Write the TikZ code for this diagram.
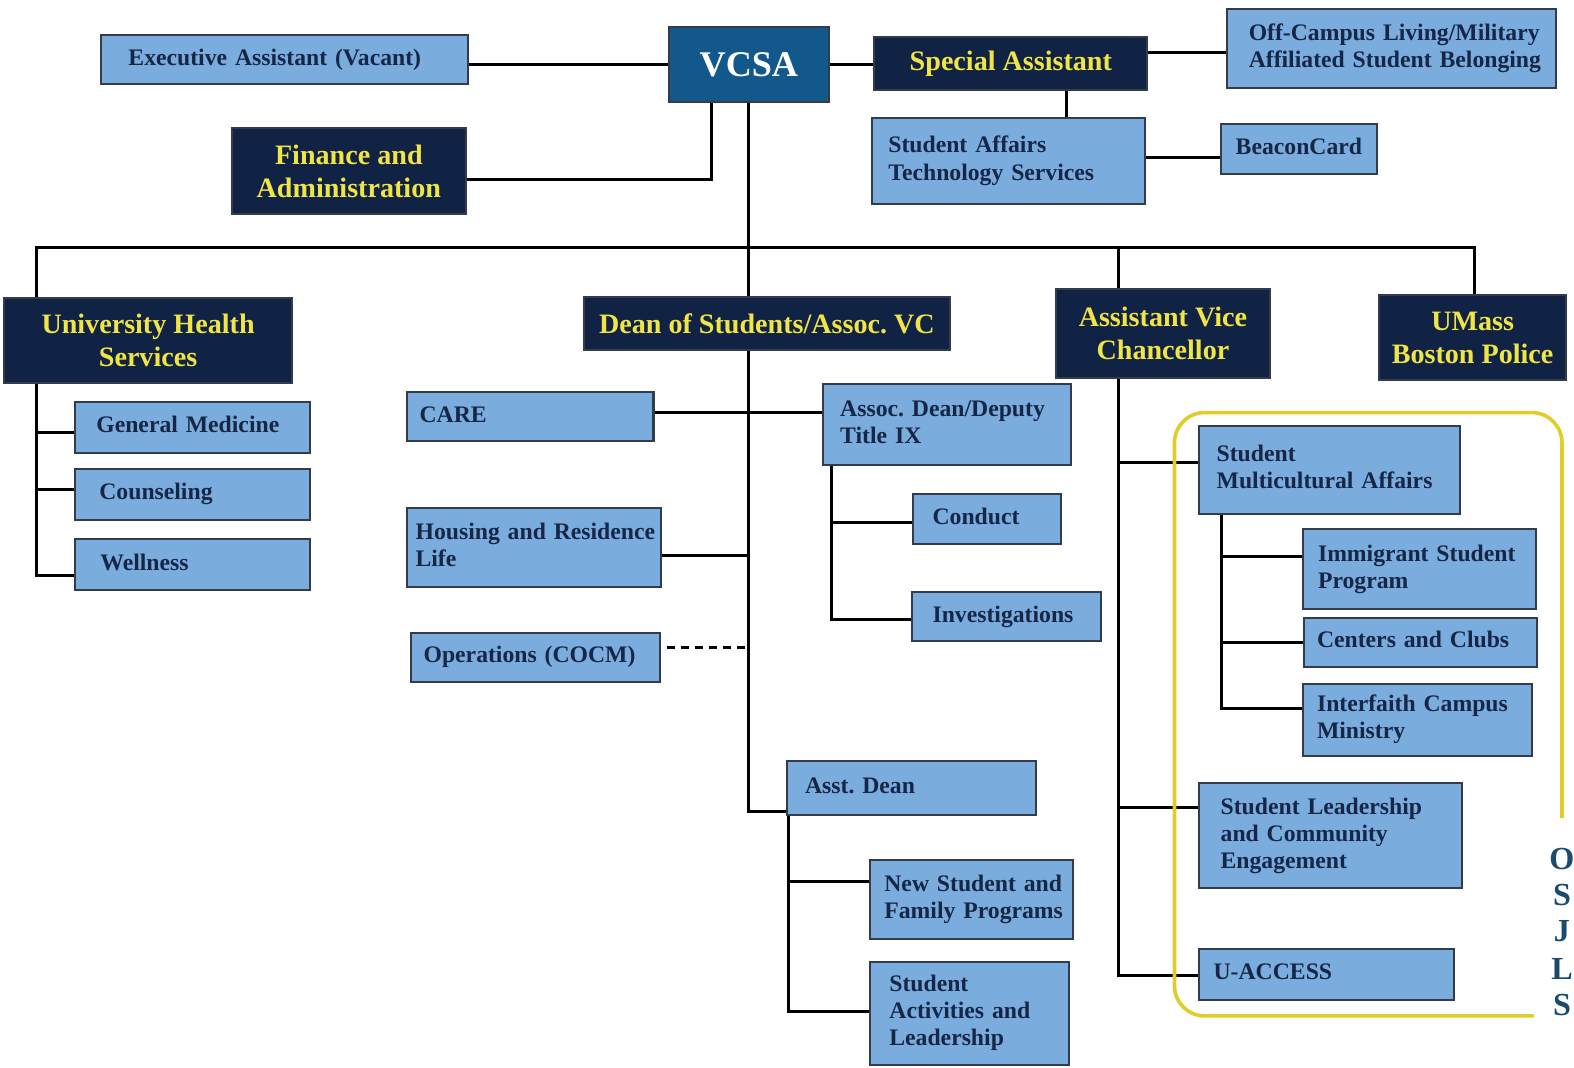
\documentclass[tikz,border=0pt]{standalone}
\usepackage{fontspec}
\setmainfont{Liberation Serif}
\frenchspacing
\definecolor{lightc}{RGB}{122,172,222}
\definecolor{bordc}{RGB}{50,60,75}
\definecolor{navyc}{RGB}{16,35,68}
\definecolor{vcsac}{RGB}{18,88,138}
\definecolor{yelc}{RGB}{240,228,70}
\definecolor{ltextc}{RGB}{22,38,70}
\definecolor{brackc}{RGB}{225,205,40}
\definecolor{osjc}{RGB}{25,75,110}
\newcommand{\boxlines}[1]{\begin{tabular}{@{}l@{}}#1\end{tabular}}
\tikzset{
  lb/.style={draw=bordc, line width=1pt, fill=lightc, text=ltextc,
    font=\bfseries\fontsize{11.8}{13.5}\selectfont,
    anchor=north west, inner ysep=0pt},
  db/.style={draw=bordc, line width=1pt, fill=navyc, text=yelc,
    font=\bfseries\fontsize{14}{16.5}\selectfont, align=center,
    anchor=north west, inner sep=0pt},
  conn/.style={line width=1.5pt, draw=black},
  osj/.style={text=osjc, font=\bfseries\fontsize{16}{18}\selectfont, inner sep=0pt}
}
\begin{document}
\begin{tikzpicture}[x=0.5pt,y=-0.5pt]
\useasboundingbox (0,0) rectangle (1568,1063);
\fill[white] (0,0) rectangle (1568,1063);

% top row
\node[lb, minimum width=182.5pt, minimum height=24.5pt, inner xsep=13.5pt, text width=155.5pt] (exec) at (100,34) {\boxlines{Executive Assistant (Vacant)}};
\node[draw=bordc, line width=1pt, fill=vcsac, text=white, font=\bfseries\fontsize{18}{20}\selectfont, anchor=north west, minimum width=80pt, minimum height=37.5pt, inner sep=0pt] (vcsa) at (665,26) {VCSA};
\node[db, minimum width=136pt, minimum height=26.5pt] (spec) at (870,36) {Special Assistant};
\node[lb, minimum width=164pt, minimum height=39.5pt, inner xsep=11pt, text width=142pt] (offc) at (1221,8) {\boxlines{Off-Campus Living/Military\\Affiliated Student Belonging}};
\node[db, minimum width=116.5pt, minimum height=42.5pt] (fin) at (230,127) {Finance and\\Administration};
\node[lb, minimum width=136pt, minimum height=42.5pt, inner xsep=8pt, text width=120pt] (sats) at (868,117) {\boxlines{Student Affairs\\Technology Services}};
\node[lb, minimum width=78pt, minimum height=24.5pt, inner xsep=7.5pt, text width=63pt] (beacon) at (1215,123) {\boxlines{BeaconCard}};

% second level
\node[db, minimum width=143.5pt, minimum height=42.5pt] (uhs) at (3,296) {University Health\\Services};
\node[db, minimum width=182pt, minimum height=26.5pt] (dean) at (581,295) {Dean of Students/Assoc. VC};
\node[db, minimum width=106.5pt, minimum height=44.5pt] (avc) at (1051,287) {Assistant Vice\\Chancellor};
\node[db, minimum width=93pt, minimum height=42.5pt] (police) at (1373,293) {UMass\\Boston Police};

% health services
\node[lb, minimum width=117pt, minimum height=25.5pt, inner xsep=10.5pt, text width=96pt] (gm) at (74,399) {\boxlines{General Medicine}};
\node[lb, minimum width=117pt, minimum height=25.5pt, inner xsep=12pt, text width=93pt] (couns) at (74,466) {\boxlines{Counseling}};
\node[lb, minimum width=117pt, minimum height=25.5pt, inner xsep=12.5pt, text width=92pt] (well) at (74,536) {\boxlines{Wellness}};

% dean of students
\node[lb, minimum width=123pt, minimum height=24pt, inner xsep=6.5pt, text width=110pt] (care) at (404,390) {\boxlines{CARE}};
\node[lb, minimum width=123.5pt, minimum height=40pt, inner xsep=8.5pt, text width=106.5pt] (assoc) at (819,382) {\boxlines{Assoc. Dean/Deputy\\Title IX}};
\node[lb, minimum width=126.5pt, minimum height=39.5pt, inner xsep=4.5pt, text width=117.5pt] (housing) at (404,505) {\boxlines{Housing and Residence\\Life}};
\node[lb, minimum width=124pt, minimum height=24pt, inner xsep=6.5pt, text width=111pt] (ops) at (408,630) {\boxlines{Operations (COCM)}};
\node[lb, minimum width=73.5pt, minimum height=25pt, inner xsep=9.5pt, text width=54.5pt] (conduct) at (909,491) {\boxlines{Conduct}};
\node[lb, minimum width=94pt, minimum height=24.5pt, inner xsep=10pt, text width=74pt] (invest) at (908,589) {\boxlines{Investigations}};
\node[lb, minimum width=124pt, minimum height=27pt, inner xsep=9pt, text width=106pt] (asst) at (783,757) {\boxlines{Asst. Dean}};
\node[lb, minimum width=101pt, minimum height=39pt, inner xsep=7pt, text width=87pt] (nsfp) at (866,856) {\boxlines{New Student and\\Family Programs}};
\node[lb, minimum width=99pt, minimum height=51.5pt, inner xsep=9.5pt, text width=80pt] (sal) at (866,957) {\boxlines{Student\\Activities and\\Leadership}};

% assistant vice chancellor
\node[lb, minimum width=130pt, minimum height=44pt, inner xsep=9pt, text width=112pt] (sma) at (1193,423) {\boxlines{Student\\Multicultural Affairs}};
\node[lb, minimum width=116pt, minimum height=40pt, inner xsep=7.5pt, text width=101pt] (isp) at (1297,526) {\boxlines{Immigrant Student\\Program}};
\node[lb, minimum width=116pt, minimum height=24pt, inner xsep=6.5pt, text width=103pt] (cc) at (1298,615) {\boxlines{Centers and Clubs}};
\node[lb, minimum width=114pt, minimum height=36pt, inner xsep=7pt, text width=100pt] (icm) at (1297,680) {\boxlines{Interfaith Campus\\Ministry}};
\node[lb, minimum width=131pt, minimum height=52.5pt, inner xsep=11pt, text width=109pt] (slce) at (1193,779) {\boxlines{Student Leadership\\and Community\\Engagement}};
\node[lb, minimum width=127pt, minimum height=25.5pt, inner xsep=7.5pt, text width=112pt] (uacc) at (1193,944) {\boxlines{U-ACCESS}};

% spine tops
\coordinate (tixs) at ([xshift=4.5pt]assoc.south west);
\coordinate (asds) at ([xshift=1pt]asst.south west);
\coordinate (smas) at ([xshift=12pt]sma.south west);

% connectors: top
\draw[conn] (vcsa.west) -- (vcsa.west -| exec.east);
\draw[conn] (vcsa.east) -- (vcsa.east -| spec.west);
\draw[conn] ([yshift=5.75pt]spec.east) -- ([yshift=5.75pt]spec.east -| offc.west);
\draw[conn] ([xshift=27.5pt]spec.south) -- ([xshift=27.5pt]spec.south |- sats.north);
\draw[conn] ([yshift=2pt]sats.east) -- ([yshift=2pt]sats.east -| beacon.west);
\draw[conn] ([xshift=-18.5pt]vcsa.south) |- ([yshift=-4.25pt]fin.east);

% bus
\coordinate (busL) at (36,247);
\coordinate (busR) at (1469,247);
\coordinate (busA) at (1114,247);
\draw[conn] (busL |- uhs.north) -- (busL) -- (busR) -- (busR |- police.north);
\draw[conn] (busA) -- (busA |- avc.north);
\draw[conn] (vcsa.south) -- (vcsa.south |- dean.north);

% health services spine
\draw[conn] (busL |- uhs.south) |- ([yshift=-5.25pt]well.west);
\draw[conn] ([yshift=-2.75pt]gm.west) -- ([yshift=-2.75pt]gm.west -| busL);
\draw[conn] ([yshift=2.25pt]couns.west) -- ([yshift=2.25pt]couns.west -| busL);

% dean spine
\draw[conn] (vcsa.south |- dean.south) |- ([yshift=-11.5pt]asst.west);
\draw[conn] ([yshift=2pt]care.east) -- ([yshift=2pt]care.east -| assoc.west);
\draw[conn] ([yshift=-3.75pt]housing.east) -- ([yshift=-3.75pt]housing.east -| vcsa.south);
\draw[line width=1.5pt, dash pattern=on 4pt off 3pt] ([xshift=3pt,yshift=5pt]ops.east) -- ([yshift=5pt]ops.east -| vcsa.south);

% title IX spine
\draw[conn] (tixs) |- ([yshift=-1.25pt]invest.west);
\draw[conn] ([yshift=-2pt]conduct.west) -- ([yshift=-2pt]conduct.west -| tixs);

% asst dean spine
\draw[conn] (asds) |- ([yshift=0.75pt]sal.west);
\draw[conn] ([yshift=9pt]nsfp.west) -- ([yshift=9pt]nsfp.west -| asds);

% AVC spine
\draw[conn] (busA |- avc.south) |- ([yshift=-0.75pt]uacc.west);
\draw[conn] ([yshift=3.5pt]sma.west) -- ([yshift=3.5pt]sma.west -| busA);
\draw[conn] ([yshift=14.25pt]slce.west) -- ([yshift=14.25pt]slce.west -| busA);

% SMA spine
\draw[conn] (smas) |- ([yshift=5.5pt]icm.west);
\draw[conn] ([yshift=6.5pt]isp.west) -- ([yshift=6.5pt]isp.west -| smas);
\draw[conn] (cc.west) -- (cc.west -| smas);

% OSJLS bracket
\draw[brackc, line width=1.8pt, rounded corners=15pt] (1528,1012) -- (1170,1012) -- (1170,411) -- (1556,411) -- (1556,815);
\node[osj] (o1) at (1556,856) {O};
\node[osj] (o2) at (1556,892) {S};
\node[osj] (o3) at (1556,928) {J};
\node[osj] (o4) at (1556,965) {L};
\node[osj] (o5) at (1556,1001) {S};
\end{tikzpicture}
\end{document}
